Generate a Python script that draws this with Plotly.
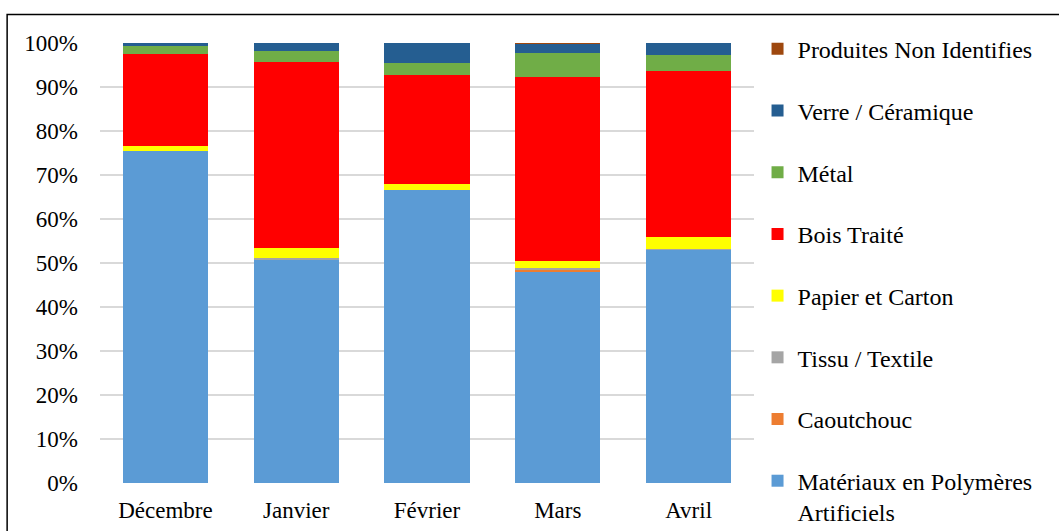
import plotly.graph_objects as go

# Monthly composition of collected waste, by material (share of total)
months = ["Décembre", "Janvier", "Février", "Mars", "Avril"]

polymeres = [75.5, 50.9, 66.7, 48.0, 53.0]
caoutchouc = [0.0, 0.0, 0.0, 0.4, 0.0]
tissu = [0.0, 0.2, 0.0, 0.5, 0.1]
papier = [1.2, 2.2, 1.2, 1.6, 2.9]
bois = [20.8, 42.4, 24.8, 41.7, 37.7]
metal = [1.8, 2.5, 2.7, 5.5, 3.5]
verre = [0.7, 1.8, 4.6, 2.1, 2.8]
non_identifies = [0.0, 0.0, 0.0, 0.2, 0.0]

# stacking order bottom -> top; the legend lists them top -> bottom
series = [
    ("Matériaux en Polymères<br>Artificiels", polymeres, "#5B9BD5"),
    ("Caoutchouc", caoutchouc, "#ED7D31"),
    ("Tissu / Textile", tissu, "#A5A5A5"),
    ("Papier et Carton", papier, "#FFFF00"),
    ("Bois Traité", bois, "#FF0000"),
    ("Métal", metal, "#70AD47"),
    ("Verre / Céramique", verre, "#255E91"),
    ("Produites Non Identifies", non_identifies, "#9E480E"),
]

fig = go.Figure()
n = len(series)
for i, (name, vals, color) in enumerate(series):
    fig.add_trace(go.Bar(
        x=months, y=vals, name=name, legendgroup=name,
        legendrank=n - i,
        marker=dict(color=color, line=dict(width=0)),
    ))

FONT = "Liberation Serif, Times New Roman, serif"

fig.update_layout(
    width=1059, height=531,
    barmode="stack", barnorm="percent", bargap=0.35,
    paper_bgcolor="white", plot_bgcolor="white",
    margin=dict(l=100, r=305, t=43, b=48, autoexpand=False),
    font=dict(family=FONT, size=23, color="black"),
    showlegend=True,
    legend=dict(
        traceorder="grouped", tracegroupgap=27.5,
        x=1.0054, xanchor="left", y=1.037, yanchor="top",
        font=dict(family=FONT, size=24, color="black"),
        itemwidth=30, maxheight=1, bgcolor="rgba(0,0,0,0)",
        valign="top",
    ),
    xaxis=dict(showgrid=False, showline=False, ticks="", ticklabelstandoff=11),
    yaxis=dict(
        range=[0, 100], tickvals=list(range(0, 101, 10)),
        ticktext=[f"{v}%" for v in range(0, 101, 10)],
        showgrid=True, gridcolor="#D9D9D9", gridwidth=1.5,
        zeroline=False, showline=False, ticks="", ticklabelstandoff=21,
    ),
    shapes=[dict(
        type="rect", xref="paper", yref="paper",
        x0=-0.142, x1=1.5, y0=-0.14, y1=1.065,
        line=dict(color="black", width=1.5), fillcolor="rgba(0,0,0,0)",
        layer="above",
    )],
)

fig.write_html("out.html")
